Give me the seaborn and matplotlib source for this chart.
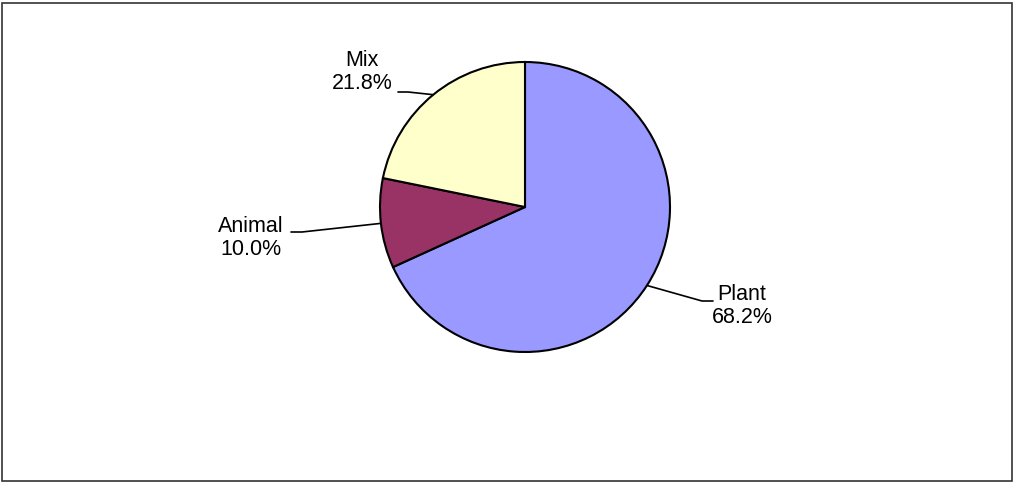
import numpy as np
import matplotlib.pyplot as plt
import matplotlib.patches as mpatches
import seaborn as sns

# data
categories = ['Plant', 'Animal', 'Mix']
shares = [68.2, 10.0, 21.8]
slice_colors = ['#9999FF', '#993366', '#FFFFCC']

sns.set_theme(style='white')
plt.rcParams['font.family'] = ['Liberation Sans', 'DejaVu Sans']

W, H = 1018, 484
fig = plt.figure(figsize=(W / 100, H / 100), dpi=100)
ax = fig.add_axes([0, 0, 1, 1])

# pie in pixel-like coordinates (y measured upward)
cx, cy, r = 525, H - 207, 145
wedges, _ = ax.pie(
    shares,
    colors=slice_colors,
    startangle=90,
    counterclock=False,
    center=(cx, cy),
    radius=r,
    wedgeprops=dict(edgecolor='black', linewidth=1.5),
)
ax.set_xlim(0, W)
ax.set_ylim(0, H)
ax.set_aspect('auto')
ax.axis('off')

# label text centre and leader-line anchor (image coords)
label_pos = {
    'Plant': dict(text=(742, 306), anchor=[(713, 301), (702, 301)]),
    'Animal': dict(text=(251, 238), anchor=[(291, 232), (302, 232)]),
    'Mix': dict(text=(362, 72), anchor=[(398, 92), (408, 92)]),
}

for w, name, pct in zip(wedges, categories, shares):
    mid = np.deg2rad((w.theta1 + w.theta2) / 2)
    ex, ey = cx + r * np.cos(mid), cy + r * np.sin(mid)
    info = label_pos[name]
    pts = [(x, H - y) for x, y in info['anchor']] + [(ex, ey)]
    ax.plot([p[0] for p in pts], [p[1] for p in pts], color='black', lw=1.2)
    tx, ty = info['text']
    ax.text(tx, H - ty, f'{name}\n{pct:.1f}%', ha='center', va='center',
            fontsize=15.5, linespacing=1.15, color='black')

# outer chart border
ax.add_patch(mpatches.Rectangle((2, H - 481), 1010, 478, fill=False,
                                edgecolor='#333333', lw=1.2, clip_on=False))

plt.savefig('out.png', dpi=100)
plt.close()
